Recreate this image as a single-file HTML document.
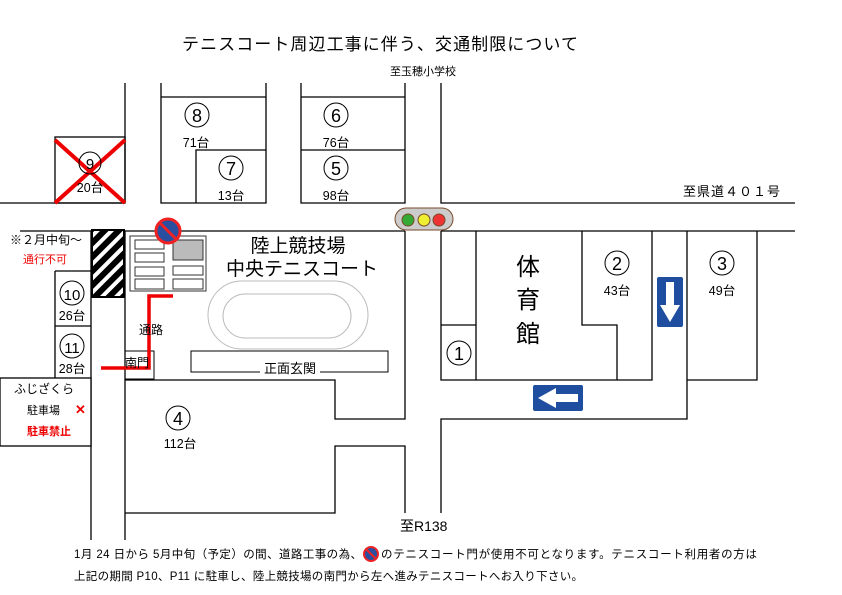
<!DOCTYPE html>
<html><head><meta charset="utf-8"><style>
body{margin:0;background:#fff}
svg{display:block}
text{font-family:"Liberation Sans","Noto Sans CJK JP",sans-serif;fill:#000}
</style></head><body>
<svg width="842" height="595" viewBox="0 0 842 595" xmlns="http://www.w3.org/2000/svg">
<defs>
<pattern id="h" width="10" height="10" patternUnits="userSpaceOnUse" patternTransform="rotate(45)">
<rect width="10" height="10" fill="#000"/><rect width="4" height="10" fill="#fff"/></pattern>
</defs>
<g stroke="#000" stroke-width="1.3" fill="none">
<path d="M125 83V203M161 83V203H266V83M161 97H266M196 203V150H266"/>
<path d="M301 83V203H405V83M301 97H405M301 150H405M441 83V203H795"/>
<path d="M0 203H125"/>
<rect x="55" y="137" width="70" height="66"/>
<path d="M20 231H405M441 231H795"/>
<path d="M91 231V540M125 231V540M55 271H91V378M55 271V378M55 326H91"/>
<rect x="0" y="378" width="91" height="68" fill="#fff"/>
<path d="M405 231V419H335V380H125"/>
<path d="M125 513H335V446H405V513"/>
<path d="M441 231V380H652V231M476 231V380M441 325H476M582 231V325H617V380"/>
<path d="M441 513V419H687V231M687 380H757V231"/>
</g>
<rect x="92" y="230" width="32" height="67" fill="url(#h)" stroke="#000" stroke-width="2"/>
<g stroke="#333" stroke-width="1" fill="#fff">
<rect x="130" y="236" width="76" height="55"/>
<rect x="135" y="240" width="29" height="9"/><rect x="135" y="253" width="29" height="9"/>
<rect x="135" y="267" width="29" height="9"/><rect x="135" y="279" width="29" height="10"/>
<rect x="173" y="240" width="30" height="20" fill="#bbb"/>
<rect x="173" y="266" width="30" height="9"/><rect x="173" y="279" width="30" height="10"/>
</g>
<rect x="208" y="281" width="160" height="68" rx="34" fill="none" stroke="#bbb"/>
<rect x="223" y="294" width="128" height="44" rx="22" fill="none" stroke="#bbb"/>
<rect x="191" y="351" width="197" height="21" fill="#fff" stroke="#000"/>
<rect x="260" y="361" width="60" height="12" fill="#fff"/>
<text x="290" y="373" font-size="13" text-anchor="middle">正面玄関</text>
<rect x="125" y="351" width="29" height="28" fill="none" stroke="#000"/>
<path d="M173 296H149V368H101" stroke="#e00" stroke-width="3.5" fill="none"/>
<text x="125" y="367" font-size="12">南門</text>
<text x="139" y="334" font-size="12">通路</text>
<circle cx="168" cy="231" r="12" fill="#2a4fa0" stroke="#e22" stroke-width="3"/>
<line x1="160" y1="223" x2="176" y2="239" stroke="#e22" stroke-width="3"/>
<rect x="395" y="208" width="58" height="22" rx="11" fill="#ccc" stroke="#7a4a2a"/>
<circle cx="408" cy="220" r="6" fill="#3a3" stroke="#7a4a2a"/>
<circle cx="424" cy="220" r="6" fill="#ee3" stroke="#7a4a2a"/>
<circle cx="439" cy="220" r="6" fill="#e33" stroke="#7a4a2a"/>
<rect x="657" y="277" width="26" height="50" rx="2" fill="#1f4ea0"/>
<path d="M666 282H674V305H680L670 322L660 305H666Z" fill="#fff"/>
<rect x="533" y="385" width="50" height="26" rx="2" fill="#1f4ea0"/>
<path d="M578 394V402H556V408L538 398L556 388V394Z" fill="#fff"/>
<path d="M55 140L125 203M125 140L55 203" stroke="#e00" stroke-width="4"/>
<g fill="none" stroke="#000" stroke-width="1">
<circle cx="197" cy="115" r="12"/><circle cx="231" cy="168" r="12"/>
<circle cx="336" cy="115" r="12"/><circle cx="336" cy="168" r="12"/>
<circle cx="90" cy="163" r="11"/><circle cx="178" cy="418" r="12"/>
<circle cx="72" cy="293" r="12"/><circle cx="72" cy="346" r="12"/>
<circle cx="459" cy="353" r="12"/><circle cx="617" cy="263" r="12"/><circle cx="722" cy="263" r="12"/>
</g>
<g font-size="18" text-anchor="middle">
<text x="197" y="122">8</text><text x="231" y="175">7</text>
<text x="336" y="122">6</text><text x="336" y="175">5</text>
<text x="90" y="169" font-size="15">9</text><text x="178" y="425">4</text>
<text x="72" y="300" font-size="15">10</text><text x="72" y="353" font-size="15">11</text>
<text x="459" y="360">1</text><text x="617" y="270">2</text><text x="722" y="270">3</text>
</g>
<g font-size="12.5" text-anchor="middle">
<text x="196" y="147">71台</text><text x="231" y="200">13台</text>
<text x="336" y="147">76台</text><text x="336" y="200">98台</text>
<text x="90" y="192">20台</text><text x="180" y="448">112台</text>
<text x="72" y="320">26台</text><text x="72" y="373">28台</text>
<text x="617" y="295">43台</text><text x="722" y="295">49台</text>
</g>
<text x="298" y="252" font-size="19" text-anchor="middle">陸上競技場</text>
<text x="302" y="275" font-size="19" text-anchor="middle">中央テニスコート</text>
<g font-size="24" text-anchor="middle"><text x="528" y="275">体</text><text x="528" y="308">育</text><text x="528" y="342">館</text></g>
<text x="182" y="50" font-size="17" textLength="396">テニスコート周辺工事に伴う、交通制限について</text>
<text x="390" y="75" font-size="11">至玉穂小学校</text>
<text x="683" y="196" font-size="13" textLength="97">至県道４０１号</text>
<text x="400" y="531" font-size="14">至R138</text>
<text x="10" y="244" font-size="12">※２月中旬～</text>
<text x="23" y="263" font-size="11" style="fill:#e00">通行不可</text>
<text x="14" y="393" font-size="12">ふじざくら</text>
<text x="27" y="414" font-size="11">駐車場</text>
<text x="75" y="414" font-size="13" font-weight="bold" style="fill:#e00">✕</text>
<text x="27" y="435" font-size="11" font-weight="bold" style="fill:#e00">駐車禁止</text>
<text x="74" y="558" font-size="11.5" textLength="288">1月 24 日から 5月中旬（予定）の間、道路工事の為、</text>
<circle cx="371" cy="554" r="7" fill="#2a4fa0" stroke="#e22" stroke-width="2"/>
<line x1="366" y1="549" x2="376" y2="559" stroke="#e22" stroke-width="2"/>
<text x="381" y="558" font-size="11.5" textLength="376">のテニスコート門が使用不可となります。テニスコート利用者の方は</text>
<text x="74" y="580" font-size="11.5" textLength="509">上記の期間 P10、P11 に駐車し、陸上競技場の南門から左へ進みテニスコートへお入り下さい。</text>
</svg>
</body></html>
